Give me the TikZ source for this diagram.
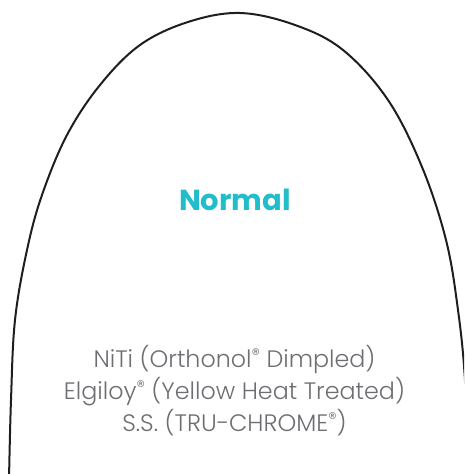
\documentclass[tikz,border=0pt]{standalone}
\usepackage{fontspec}
\setmainfont{Poppins}
\newfontfamily\lightfont{Poppins Light}
\definecolor{archcyan}{HTML}{21BDCA}
\definecolor{archgray}{HTML}{6D6E71}
\definecolor{archline}{HTML}{1E1E1E}
\newcommand{\regmark}{\raisebox{0.5ex}{\scalebox{0.7}{®}}}
\tikzset{
  title/.style={anchor=base, text=archcyan, font=\fontsize{29}{29}\selectfont\bfseries, inner sep=0pt},
  wire/.style={anchor=base, text=archgray, font=\lightfont\fontsize{23.8}{23.8}\selectfont, inner sep=0pt},
  archwire/.style={line width=2pt, draw=archline}
}
\begin{document}
\begin{tikzpicture}[x=1pt,y=-1pt]
\useasboundingbox (0,0) rectangle (464,474);
\begin{scope}
\clip (0,0) rectangle (464,474);
\draw[archwire] plot[smooth, tension=0.6] coordinates {(9,480) (11,400) (15,320) (27,250) (42,195) (67,135) (100,85) (140,45) (188,22) (240,13) (295,25) (343,50) (388,100) (422,167) (446,240) (458,310) (465,380) (469,480)};
\end{scope}
\node[title] (normal) at (235,210) {Normal};
\node[wire] (niti) at (234.5,367) {NiTi (Orthonol\regmark{} Dimpled)};
\node[wire] (elgiloy) at (234.5,399) {Elgiloy\regmark{} (Yellow Heat Treated)};
\node[wire] (ss) at (234.5,431) {S.S. (TRU-CHROME\regmark)};
\end{tikzpicture}
\end{document}
